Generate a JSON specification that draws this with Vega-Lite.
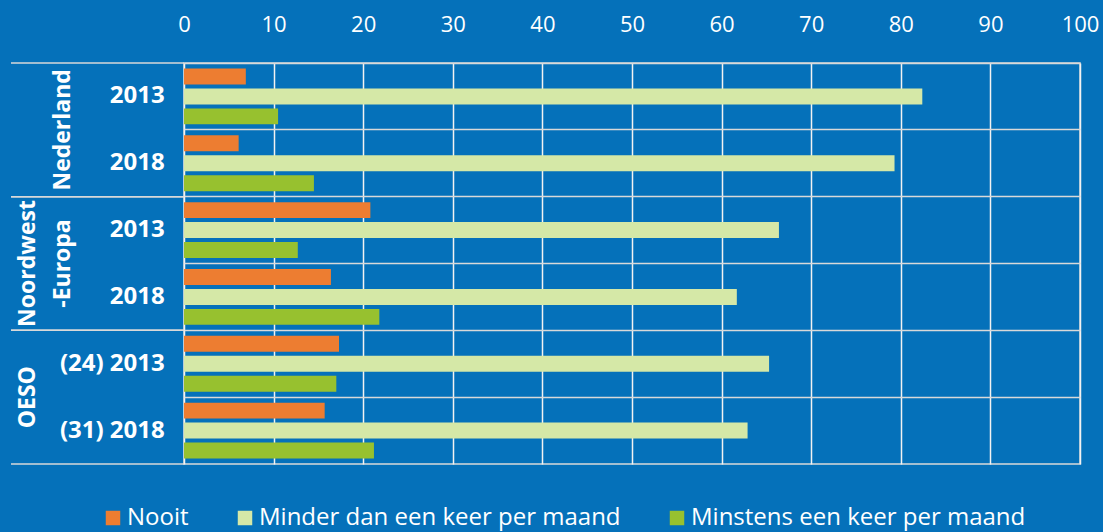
{
  "$schema": "https://vega.github.io/schema/vega-lite/v6.json",
  "background": "#0571BA",
  "padding": {"left": 10, "top": 12, "right": 20, "bottom": 12},
  "spacing": 0,
  "bounds": "flush",
  "datasets": {
    "bars": [
      {"rij": "NL2013", "categorie": "Nooit", "waarde": 6.9},
      {"rij": "NL2013", "categorie": "Minder dan een keer per maand", "waarde": 82.4},
      {"rij": "NL2013", "categorie": "Minstens een keer per maand", "waarde": 10.5},
      {"rij": "NL2018", "categorie": "Nooit", "waarde": 6.1},
      {"rij": "NL2018", "categorie": "Minder dan een keer per maand", "waarde": 79.3},
      {"rij": "NL2018", "categorie": "Minstens een keer per maand", "waarde": 14.5},
      {"rij": "NW2013", "categorie": "Nooit", "waarde": 20.8},
      {"rij": "NW2013", "categorie": "Minder dan een keer per maand", "waarde": 66.4},
      {"rij": "NW2013", "categorie": "Minstens een keer per maand", "waarde": 12.7},
      {"rij": "NW2018", "categorie": "Nooit", "waarde": 16.4},
      {"rij": "NW2018", "categorie": "Minder dan een keer per maand", "waarde": 61.7},
      {"rij": "NW2018", "categorie": "Minstens een keer per maand", "waarde": 21.8},
      {"rij": "OE2013", "categorie": "Nooit", "waarde": 17.3},
      {"rij": "OE2013", "categorie": "Minder dan een keer per maand", "waarde": 65.3},
      {"rij": "OE2013", "categorie": "Minstens een keer per maand", "waarde": 17.0},
      {"rij": "OE2018", "categorie": "Nooit", "waarde": 15.7},
      {"rij": "OE2018", "categorie": "Minder dan een keer per maand", "waarde": 62.9},
      {"rij": "OE2018", "categorie": "Minstens een keer per maand", "waarde": 21.2}
    ],
    "rijen": [
      {"rij": "NL2013", "jaar": "2013"},
      {"rij": "NL2018", "jaar": "2018"},
      {"rij": "NW2013", "jaar": "2013"},
      {"rij": "NW2018", "jaar": "2018"},
      {"rij": "OE2013", "jaar": "(24) 2013"},
      {"rij": "OE2018", "jaar": "(31) 2018"}
    ],
    "groepen": [
      {"groep": "NL", "label": "\nNederland"},
      {"groep": "NW", "label": "Noordwest\n-Europa"},
      {"groep": "OE", "label": "OESO"}
    ]
  },
  "hconcat": [
    {
      "width": 173,
      "height": 401,
      "view": {"stroke": null},
      "layer": [
        {
          "data": {"name": "groepen"},
          "mark": {"type": "rule", "color": "#D9D9D9", "strokeWidth": 1.5},
          "encoding": {
            "y": {"field": "groep", "type": "nominal", "bandPosition": 0, "axis": null,
                  "scale": {"domain": ["NL", "NW", "OE"], "paddingInner": 0, "paddingOuter": 0}}
          }
        },
        {
          "data": {"name": "groepen"},
          "mark": {"type": "rule", "color": "#D9D9D9", "strokeWidth": 1.5},
          "encoding": {
            "y": {"field": "groep", "type": "nominal", "bandPosition": 1, "axis": null,
                  "scale": {"domain": ["NL", "NW", "OE"], "paddingInner": 0, "paddingOuter": 0}}
          }
        },
        {
          "data": {"name": "groepen"},
          "mark": {"type": "text", "angle": 270, "align": "center", "baseline": "middle",
                   "font": "Open Sans", "fontWeight": "bold", "fontSize": 23, "color": "white",
                   "lineBreak": "\n", "lineHeight": 35, "dy": -26},
          "encoding": {
            "y": {"field": "groep", "type": "nominal", "axis": null,
                  "scale": {"domain": ["NL", "NW", "OE"], "paddingInner": 0, "paddingOuter": 0}},
            "x": {"datum": "groep", "type": "nominal", "axis": null,
                  "scale": {"domain": ["groep", "jaar"], "paddingInner": 0, "paddingOuter": 0}},
            "text": {"field": "label"}
          }
        },
        {
          "data": {"name": "rijen"},
          "mark": {"type": "text", "align": "right", "baseline": "middle",
                   "font": "Open Sans", "fontWeight": "bold", "fontSize": 24, "color": "white", "dx": 24},
          "encoding": {
            "y": {"field": "rij", "type": "nominal", "axis": null,
                  "scale": {"domain": ["NL2013", "NL2018", "NW2013", "NW2018", "OE2013", "OE2018"], "paddingInner": 0, "paddingOuter": 0}},
            "x": {"datum": "jaar", "type": "nominal", "axis": null,
                  "scale": {"domain": ["groep", "jaar"], "paddingInner": 0, "paddingOuter": 0}},
            "text": {"field": "jaar"}
          }
        }
      ],
      "resolve": {"scale": {"y": "independent"}}
    },
    {
      "width": 896,
      "height": 401,
      "data": {"name": "bars"},
      "mark": {"type": "bar"},
      "encoding": {
        "y": {"field": "rij", "type": "nominal",
              "scale": {"domain": ["NL2013", "NL2018", "NW2013", "NW2018", "OE2013", "OE2018"], "paddingInner": 0, "paddingOuter": 0},
              "axis": {"labels": false, "ticks": false, "domain": false, "title": null, "grid": true,
                       "bandPosition": 0, "gridColor": "#D9D9D9", "gridWidth": 1.5}},
        "yOffset": {"field": "categorie", "type": "nominal",
                    "scale": {"domain": ["Nooit", "Minder dan een keer per maand", "Minstens een keer per maand"], "paddingInner": 0.2, "paddingOuter": 0.275}},
        "x": {"field": "waarde", "type": "quantitative",
              "scale": {"domain": [0, 100], "nice": false},
              "axis": {"orient": "top", "values": [0, 10, 20, 30, 40, 50, 60, 70, 80, 90, 100],
                       "grid": true, "gridColor": "#F2F2F2", "gridWidth": 1.5,
                       "domain": false, "ticks": false, "title": null, "labelFlush": false,
                       "labelFont": "Open Sans", "labelFontSize": 22, "labelColor": "white", "labelPadding": 27}},
        "color": {"field": "categorie", "type": "nominal",
                  "scale": {"domain": ["Nooit", "Minder dan een keer per maand", "Minstens een keer per maand"],
                            "range": ["#ED7D31", "#D5E8A7", "#97C12F"]},
                  "legend": {"title": null, "orient": "none", "direction": "horizontal", "legendX": 90, "legendY": 443}}
      }
    }
  ],
  "config": {
    "view": {"stroke": "#D9D9D9", "strokeWidth": 1.5},
    "legend": {"symbolType": "square", "symbolSize": 210, "symbolStrokeWidth": 0, "symbolOpacity": 1,
               "labelFont": "Open Sans", "labelFontSize": 24, "labelColor": "white", "labelLimit": 0,
               "labelOffset": 2, "columnPadding": 44, "padding": 0}
  }
}
